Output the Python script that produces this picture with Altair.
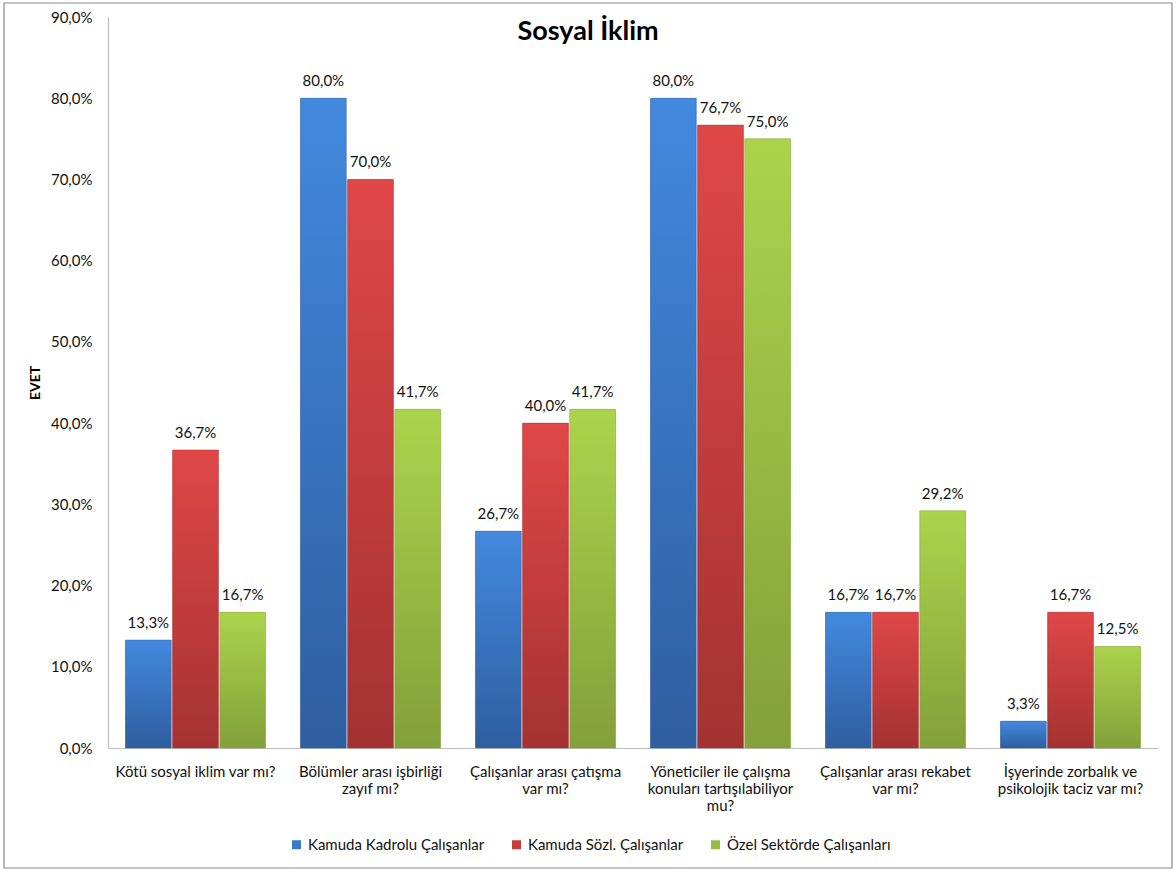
import altair as alt
import pandas as pd

categories = [
    "Kötü sosyal iklim var mı?",
    "Bölümler arası işbirliği|zayıf mı?",
    "Çalışanlar arası çatışma|var mı?",
    "Yöneticiler ile çalışma|konuları tartışılabiliyor|mu?",
    "Çalışanlar arası rekabet|var mı?",
    "İşyerinde zorbalık ve|psikolojik taciz var mı?",
]
series = ["Kamuda Kadrolu Çalışanlar", "Kamuda Sözl. Çalışanlar", "Özel Sektörde Çalışanları"]
kadrolu = [13.3, 80.0, 26.7, 80.0, 16.7, 3.3]
sozlesmeli = [36.7, 70.0, 40.0, 76.7, 16.7, 16.7]
ozel = [16.7, 41.7, 41.7, 75.0, 29.2, 12.5]
y_ticks = [0, 10, 20, 30, 40, 50, 60, 70, 80, 90]

solid = ["#3A78C8", "#C83C3C", "#96BE44"]
grad_top = ["#4289DE", "#E04747", "#ABD44C"]
grad_bot = ["#2F5E9F", "#A43232", "#83A03A"]

rows = []
for s, vals in zip(series, [kadrolu, sozlesmeli, ozel]):
    for c, v in zip(categories, vals):
        rows.append({"cat": c, "series": s, "value": v})
df = pd.DataFrame(rows)

FONT = "Lato"
FS = 15
W, H = 1050, 731

x_enc = alt.X("cat:N", sort=categories,
              scale=alt.Scale(paddingInner=0.2, paddingOuter=0.1),
              axis=alt.Axis(title=None, labelAngle=0, labelExpr="split(datum.label, '|')",
                            labelFont=FONT, labelFontSize=FS, labelColor="#111111",
                            labelLineHeight=17, labelPadding=16, ticks=False,
                            domainColor="#BDBDBD", domainWidth=1.2, labelLimit=220))
xo_enc = alt.XOffset("series:N", sort=series,
                     scale=alt.Scale(domain=series, paddingInner=0.03))
y_enc = alt.Y("value:Q",
              scale=alt.Scale(domain=[0, 90], nice=False),
              axis=alt.Axis(title="EVET", values=y_ticks, grid=False, ticks=False,
                            labelExpr="replace(format(datum.value, '.1f'), '.', ',') + '%'",
                            labelFont=FONT, labelFontSize=FS, labelColor="#111111",
                            labelPadding=16, domainColor="#BDBDBD", domainWidth=1.2,
                            titleFont=FONT, titleFontSize=14, titleFontWeight="bold",
                            titleColor="#000000", titleX=-73, titleY=H / 2,
                            titleAngle=-90, titleAlign="center", titleBaseline="middle"))

base = alt.Chart(df)

legend_layer = base.mark_bar().encode(
    x=x_enc, xOffset=xo_enc, y=y_enc,
    color=alt.Color("series:N", sort=series,
                    scale=alt.Scale(domain=series, range=solid),
                    legend=alt.Legend(title=None, orient="none", direction="horizontal",
                                      legendX=181, legendY=820, symbolType="square",
                                      symbolSize=81, symbolStrokeWidth=0,
                                      labelFont=FONT, labelFontSize=FS, labelColor="#111111",
                                      columnPadding=24, labelOffset=4, labelLimit=300)),
)

grad_layers = []
for s, t, b in zip(series, grad_top, grad_bot):
    grad = {"gradient": "linear", "x1": 0, "y1": 0, "x2": 0, "y2": 1,
            "stops": [{"offset": 0, "color": t}, {"offset": 1, "color": b}]}
    grad_layers.append(
        base.transform_filter(alt.datum.series == s)
        .mark_bar(fill=grad, stroke=b, strokeWidth=0.6, strokeOpacity=0.7)
        .encode(x=x_enc, xOffset=xo_enc, y=y_enc)
    )

labels = base.transform_calculate(
    lbl="replace(format(datum.value, '.1f'), '.', ',') + '%'"
).mark_text(baseline="bottom", dy=-9, font=FONT, fontSize=FS, color="#111111").encode(
    x=x_enc, xOffset=xo_enc, y=y_enc, text="lbl:N")

title = alt.Chart(pd.DataFrame({"t": ["Sosyal İklim"]})).mark_text(
    font=FONT, fontSize=27, fontWeight="bold", color="#000000",
    align="center", baseline="middle").encode(
    text="t:N", x=alt.value(480), y=alt.value(15))

frame = alt.Chart(pd.DataFrame({"a": [0]})).mark_rect(
    fill=None, stroke="#8C8C8C", strokeWidth=1.2).encode(
    x=alt.value(-104), x2=alt.value(1064), y=alt.value(-14), y2=alt.value(851))

chart = alt.layer(frame, legend_layer, *grad_layers, labels, title).properties(
    width=W, height=H,
    autosize=alt.AutoSizeParams(type="none"),
    padding={"left": 108, "top": 17, "right": 18, "bottom": 124},
    background="white",
).configure_view(stroke=None)

chart.save("out.html", embed_options={"renderer": "svg", "actions": False})
